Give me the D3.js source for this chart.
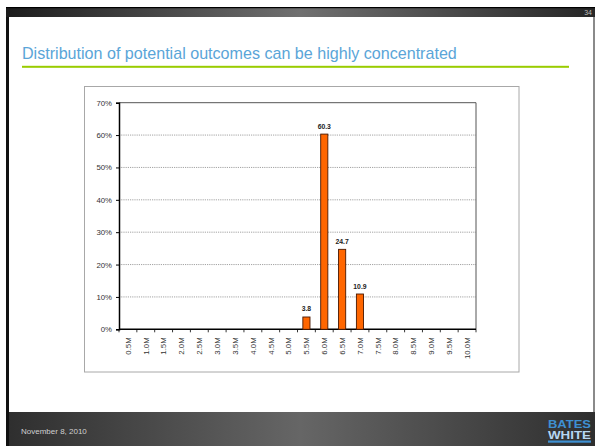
<!DOCTYPE html>
<html>
<head>
<meta charset="utf-8">
<script src="https://cdn.jsdelivr.net/npm/d3@7"></script>
<style>
  html, body { margin: 0; padding: 0; background: #fff; }
  svg { display: block; font-family: "Liberation Sans", Arial, sans-serif; }
</style>
</head>
<body>
<svg id="slide" width="596" height="446"></svg>
<script>
// Outcome buckets and the share of simulated outcomes falling in each
const categories = ["0.5M","1.0M","1.5M","2.0M","2.5M","3.0M","3.5M","4.0M","4.5M","5.0M",
                    "5.5M","6.0M","6.5M","7.0M","7.5M","8.0M","8.5M","9.0M","9.5M","10.0M"];
const shares = [0,0,0,0,0,0,0,0,0,0, 3.8,60.3,24.7,10.9, 0,0,0,0,0,0];
const yTicks = [0,10,20,30,40,50,60,70];
const titleText = "Distribution of potential outcomes can be highly concentrated";
const dateText = "November 8, 2010";
const pageNumber = "34";

const svg = d3.select("#slide");
const defs = svg.append("defs");

function hGradient(id, stops) {
  const g = defs.append("linearGradient").attr("id", id)
    .attr("x1", "0%").attr("x2", "100%").attr("y1", "0%").attr("y2", "0%");
  stops.forEach(([o, c]) => g.append("stop").attr("offset", o).attr("stop-color", c));
}
hGradient("topBar", [["0%", "#1c1c1c"], ["50%", "#707070"], ["100%", "#262626"]]);
hGradient("footBar", [["0%", "#2e2e2e"], ["50%", "#666666"], ["100%", "#2e2e2e"]]);

// Slide frame
svg.append("rect").attr("x", 6).attr("y", 7).attr("width", 589).attr("height", 439).attr("fill", "#fff");
svg.append("rect").attr("x", 6).attr("y", 7).attr("width", 3).attr("height", 439).attr("fill", "#111");
svg.append("rect").attr("x", 593).attr("y", 7).attr("width", 2).attr("height", 439).attr("fill", "#8a8a8a");
svg.append("rect").attr("x", 6).attr("y", 7).attr("width", 589).attr("height", 10).attr("fill", "url(#topBar)");
svg.append("rect").attr("x", 6).attr("y", 7).attr("width", 589).attr("height", 1.2).attr("fill", "#000");
svg.append("text").attr("x", 592).attr("y", 15).attr("text-anchor", "end")
  .attr("font-size", 7).attr("fill", "#bdbdbd").text(pageNumber);

// Title and rule
svg.append("text").attr("x", 22).attr("y", 58.5)
  .attr("font-size", 16.1).attr("fill", "#5aa5d8").text(titleText);
svg.append("rect").attr("x", 22).attr("y", 65.8).attr("width", 547).attr("height", 2).attr("fill", "#99cc00");

// Footer
svg.append("rect").attr("x", 6).attr("y", 412).attr("width", 589).attr("height", 34).attr("fill", "url(#footBar)");
svg.append("rect").attr("x", 6).attr("y", 412).attr("width", 3).attr("height", 34).attr("fill", "#111");
svg.append("text").attr("x", 21).attr("y", 434).attr("font-size", 8).attr("fill", "#d0d0d0").text(dateText);

// Logo: two stacked words
svg.append("text").attr("x", 548).attr("y", 427.5).attr("font-size", 10).attr("font-weight", "bold")
  .attr("fill", "#3e90d2").attr("textLength", 43).attr("lengthAdjust", "spacingAndGlyphs").text("BATES");
svg.append("text").attr("x", 548).attr("y", 439.2).attr("font-size", 10).attr("font-weight", "bold")
  .attr("fill", "#b6d7f3").attr("textLength", 43).attr("lengthAdjust", "spacingAndGlyphs").text("WHITE");
svg.append("rect").attr("x", 548).attr("y", 440.5).attr("width", 43).attr("height", 2.2).attr("fill", "#3e90d2");

// Chart box
svg.append("rect").attr("x", 84.5).attr("y", 86.5).attr("width", 434.5).attr("height", 285.5)
  .attr("fill", "#fff").attr("stroke", "#a8a8a8").attr("stroke-width", 1);

// Plot area
const plot = { left: 119, right: 476, top: 102.7, bottom: 329.3 };
const x = d3.scaleBand().domain(categories).range([plot.left, plot.right])
  .paddingInner(0.6).paddingOuter(0.3);
const y = d3.scaleLinear().domain([0, 70]).range([plot.bottom, plot.top]);

const g = svg.append("g");

// Dotted gridlines
g.selectAll("line.grid").data(yTicks.filter(d => d > 0 && d < 70)).join("line")
  .attr("class", "grid")
  .attr("x1", plot.left).attr("x2", plot.right)
  .attr("y1", d => y(d)).attr("y2", d => y(d))
  .attr("stroke", "#8c8c8c").attr("stroke-width", 0.8).attr("stroke-dasharray", "1.2,1");

// Top and right frame of the plot
g.append("path")
  .attr("d", `M${plot.left},${plot.top}H${plot.right}V${plot.bottom}`)
  .attr("fill", "none").attr("stroke", "#555").attr("stroke-width", 1);

// Y axis
const yAxis = d3.axisLeft(y).tickValues(yTicks).tickFormat(d => d + "%").tickSize(3).tickPadding(4);
const yg = g.append("g").attr("transform", `translate(${plot.left},0)`).call(yAxis);
yg.select(".domain").attr("stroke", "#000").attr("stroke-width", 1.5);
yg.selectAll(".tick line").attr("stroke", "#000");
yg.selectAll(".tick text").attr("font-size", 7.8).attr("fill", "#333")
  .attr("font-family", "\"Liberation Sans\", Arial, sans-serif");

// X axis: ticks sit between categories
const xAxis = d3.axisBottom(x).tickSize(0).tickPadding(0);
const xg = g.append("g").attr("transform", `translate(0,${plot.bottom})`).call(xAxis);
xg.select(".domain").attr("stroke", "#000").attr("stroke-width", 1.5).attr("d", `M${plot.left},0H${plot.right}`);
xg.selectAll(".tick text")
  .attr("font-size", 7.8).attr("fill", "#333")
  .attr("font-family", "\"Liberation Sans\", Arial, sans-serif")
  .attr("text-anchor", "end").attr("dy", null)
  .attr("transform", "translate(2.8,8) rotate(-90)")
  .attr("x", 0).attr("y", 0);
const step = x.step();
g.selectAll("line.xsep").data(d3.range(categories.length + 1)).join("line")
  .attr("class", "xsep")
  .attr("x1", i => plot.left + i * step).attr("x2", i => plot.left + i * step)
  .attr("y1", plot.bottom).attr("y2", plot.bottom + 3)
  .attr("stroke", "#000").attr("stroke-width", 0.8);

// Bars
const data = categories.map((c, i) => ({ c, v: shares[i] })).filter(d => d.v > 0);
g.selectAll("rect.bar").data(data).join("rect")
  .attr("class", "bar")
  .attr("x", d => x(d.c)).attr("width", x.bandwidth())
  .attr("y", d => y(d.v)).attr("height", d => y(0) - y(d.v))
  .attr("fill", "#ff6600").attr("stroke", "#4a1800").attr("stroke-width", 0.9);

// Value labels
g.selectAll("text.val").data(data).join("text")
  .attr("class", "val")
  .attr("x", d => x(d.c) + x.bandwidth() / 2).attr("y", d => y(d.v) - 5.5)
  .attr("text-anchor", "middle").attr("font-size", 6.8).attr("font-weight", "bold")
  .attr("fill", "#222").text(d => d.v.toFixed(1));
</script>
</body>
</html>
